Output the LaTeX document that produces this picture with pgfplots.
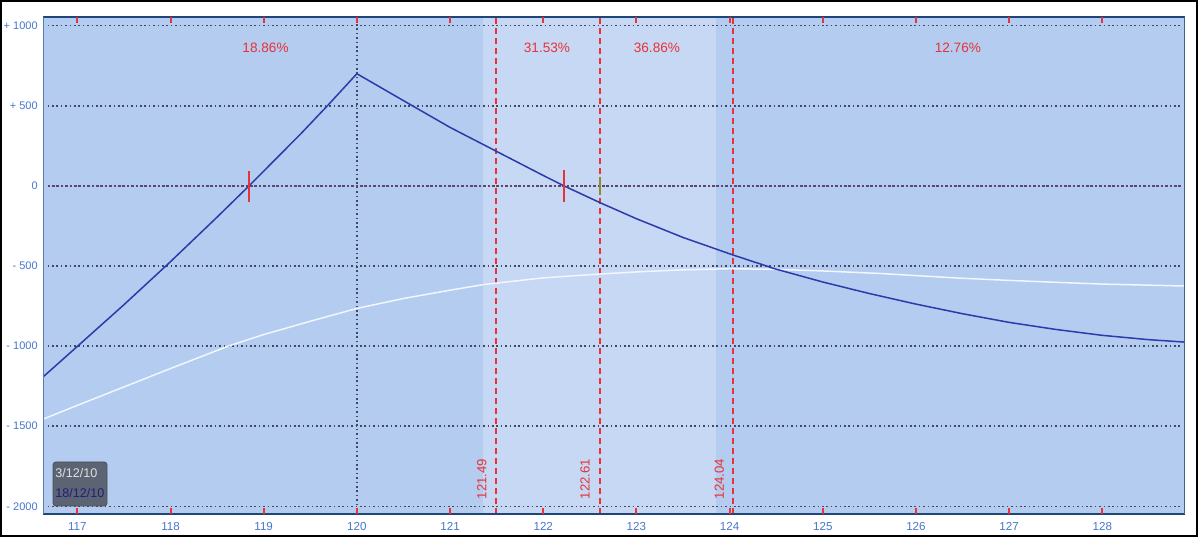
\documentclass[border=0pt]{standalone}
\usepackage{fontspec}
\setmainfont{Liberation Sans}
\usepackage{pgfplots}
\pgfplotsset{compat=1.18}
\definecolor{bgblue}{RGB}{179,204,240}
\definecolor{bandblue}{RGB}{198,216,244}
\definecolor{curveblue}{RGB}{45,58,170}
\definecolor{whitecurve}{RGB}{242,246,255}
\definecolor{redline}{RGB}{232,50,55}
\definecolor{gridc}{RGB}{70,70,100}
\definecolor{zeroc}{RGB}{90,72,112}
\definecolor{labblue}{RGB}{68,118,205}
\definecolor{frameblue}{RGB}{30,70,120}
\definecolor{leftframe}{RGB}{80,125,180}
\definecolor{legbox}{RGB}{92,100,115}
\definecolor{legnavy}{RGB}{30,30,125}
\begin{document}
\begin{tikzpicture}
\begin{axis}[
  scale only axis, width=570.6pt, height=248.5pt,
  xmin=116.637, xmax=128.884, ymin=-2048, ymax=1054,
  axis background/.style={fill=bgblue},
  axis line style={draw=none},
  axis on top,
  xtick={117,118,119,120,121,122,123,124,125,126,127,128},
  ytick={-2000,-1500,-1000,-500,0,500,1000},
  yticklabels={- 2000,- 1500,- 1000,- 500,0,+ 500,+ 1000},
  tick align=inside,
  tick pos=both,
  xticklabel pos=lower,
  yticklabel pos=left,
  xtick style={draw=redline, line width=1pt},
  ytick style={draw=none},
  major tick length=3pt,
  xticklabel style={font=\fontsize{5.8}{6.5}\selectfont, text=labblue, yshift=-0.8pt},
  yticklabel style={font=\fontsize{5.5}{6.5}\selectfont, text=labblue, xshift=0.6pt},
  /pgf/number format/assume math mode=true,
  /pgf/number format/1000 sep={},
  clip=false,
]
\coordinate (SW) at (rel axis cs:0,0);
\coordinate (NE) at (rel axis cs:1,1);
% light band
\fill[bandblue] (axis cs:121.356,-2048) rectangle (axis cs:123.856,1054);
% grid lines
\draw[gridc, line width=0.8pt, dash pattern=on 0.8pt off 1.4pt] (axis cs:116.68,-2000) -- (axis cs:128.86,-2000);
\draw[gridc, line width=0.8pt, dash pattern=on 0.8pt off 1.4pt] (axis cs:116.68,-1500) -- (axis cs:128.86,-1500);
\draw[gridc, line width=0.8pt, dash pattern=on 0.8pt off 1.4pt] (axis cs:116.68,-1000) -- (axis cs:128.86,-1000);
\draw[gridc, line width=0.8pt, dash pattern=on 0.8pt off 1.4pt] (axis cs:116.68,-500) -- (axis cs:128.86,-500);
\draw[gridc, line width=0.8pt, dash pattern=on 0.8pt off 1.4pt] (axis cs:116.68,500) -- (axis cs:128.86,500);
\draw[gridc, line width=0.8pt, dash pattern=on 0.8pt off 1.4pt] (axis cs:116.68,1000) -- (axis cs:128.86,1000);
\draw[zeroc, line width=1.1pt, dash pattern=on 1.3pt off 0.9pt] (axis cs:116.68,0) -- (axis cs:128.86,0);
\draw[gridc, line width=0.8pt, dash pattern=on 0.8pt off 1.4pt] (axis cs:120,-2048) -- (axis cs:120,1054);
% red dashed lines
\draw[redline, line width=1pt, dash pattern=on 3pt off 2pt] (axis cs:121.49,-2048) -- (axis cs:121.49,1054);
\draw[redline, line width=1pt, dash pattern=on 3pt off 2pt] (axis cs:122.61,-2048) -- (axis cs:122.61,1054);
\draw[redline, line width=1pt, dash pattern=on 3pt off 2pt] (axis cs:124.04,-2048) -- (axis cs:124.04,1054);
% curves
\addplot[whitecurve, line width=0.75pt] coordinates {
(116.637,-1455) (117.0,-1370) (117.5,-1255) (118.0,-1140) (118.62,-1000)
(119.0,-928) (119.5,-845) (120.0,-765) (120.5,-703) (121.0,-651)
(121.36,-616) (122.0,-574) (122.61,-550) (123.04,-536) (123.5,-524)
(124.0,-517) (124.5,-521) (125.0,-531) (125.62,-547) (126.0,-560)
(126.47,-576) (127.0,-590) (127.55,-603) (128.0,-613) (128.884,-625)
};
\addplot[curveblue, line width=0.75pt] coordinates {
(116.637,-1190) (117.0,-1002) (117.5,-742) (118.0,-473) (118.5,-195)
(118.843,0) (119.4,326) (119.7,510) (120.0,700) (120.5,532)
(121.0,365) (121.5,215) (122.0,65) (122.223,0) (122.61,-105)
(123.0,-205) (123.5,-322) (124.04,-432) (124.5,-520) (125.0,-600)
(125.5,-672) (126.0,-738) (126.5,-798) (127.0,-852) (127.5,-896)
(128.0,-933) (128.5,-960) (128.884,-975)
};
% breakeven marks
\draw[redline, line width=0.8pt] (axis cs:118.843,94) -- (axis cs:118.843,-100);
\draw[redline, line width=0.8pt] (axis cs:122.223,100) -- (axis cs:122.223,-98);
\draw[olive!70!gray, line width=0.6pt] (axis cs:122.61,56) -- (axis cs:122.61,-60);
% percentage labels
\node[text=redline, font=\fontsize{6.8}{8}\selectfont] at (axis cs:119.02,861) {18.86\%};
\node[text=redline, font=\fontsize{6.8}{8}\selectfont] at (axis cs:122.04,861) {31.53\%};
\node[text=redline, font=\fontsize{6.8}{8}\selectfont] at (axis cs:123.22,861) {36.86\%};
\node[text=redline, font=\fontsize{6.8}{8}\selectfont] at (axis cs:126.45,861) {12.76\%};
% rotated value labels
\node[text=redline, rotate=90, font=\fontsize{6.6}{7}\selectfont] at (axis cs:121.34,-1829) {121.49};
\node[text=redline, rotate=90, font=\fontsize{6.6}{7}\selectfont] at (axis cs:122.45,-1829) {122.61};
\node[text=redline, rotate=90, font=\fontsize{6.6}{7}\selectfont] at (axis cs:123.89,-1829) {124.04};
% legend box
\draw[fill=legbox, draw=legbox!80!black, rounded corners=1.5pt] (axis cs:116.739,-1723) rectangle (axis cs:117.319,-1998);
\node[anchor=west, inner sep=0pt, text=black!12, font=\fontsize{6.3}{7}\selectfont] at (axis cs:116.761,-1792) {3/12/10};
\node[anchor=west, inner sep=0pt, text=legnavy, font=\fontsize{6.3}{7}\selectfont] at (axis cs:116.761,-1916) {18/12/10};
% frame lines
\draw[frameblue, line width=1pt] (rel axis cs:0,0) -- (rel axis cs:1,0);
\draw[frameblue, line width=1pt] (rel axis cs:0,1) -- (rel axis cs:1,1);
\draw[leftframe, line width=0.6pt] (rel axis cs:0,0) -- (rel axis cs:0,1);
\draw[frameblue!85, line width=0.6pt] (rel axis cs:1,0) -- (rel axis cs:1,1);
\end{axis}
\pgfresetboundingbox
\path[use as bounding box] ([shift={(-21.75pt,-11.5pt)}]SW) rectangle ([shift={(7.65pt,8.5pt)}]NE);
\draw[black, line width=0.8pt] ([shift={(-21.35pt,-11.1pt)}]SW) rectangle ([shift={(6pt,8.1pt)}]NE);
\end{tikzpicture}
\end{document}
